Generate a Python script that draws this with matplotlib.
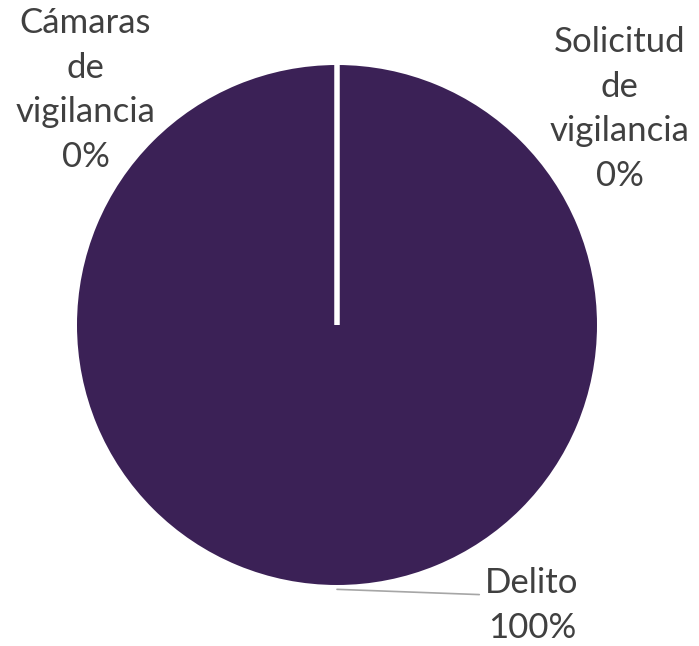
import matplotlib.pyplot as plt

plt.rcParams['font.family'] = ['Lato', 'DejaVu Sans']

categorias = ['Cámaras\nde\nvigilancia', 'Solicitud\nde\nvigilancia', 'Delito']
valores = [0, 0, 1]

total = sum(valores)
porcentajes = [v / total * 100 for v in valores]

fig = plt.figure(figsize=(6.99, 6.46), dpi=100)
# axes sized so the unit-radius pie lands where it should
ax = fig.add_axes([74.5 / 699, 58.5 / 646, 525 / 699, 525 / 646])
wedges, _ = ax.pie(valores, startangle=90, counterclock=False, colors=['#3b2156'] * 3,
                   wedgeprops=dict(edgecolor='white', linewidth=3.6))
# empty slices go on top so their white edge stays visible
for w, v in zip(wedges, valores):
    if v == 0:
        w.set_zorder(5)
ax.set_xlim(-1, 1)
ax.set_ylim(-1, 1)
ax.set_aspect('equal')
ax.axis('off')

# label placement (data coords, radius 1)
pos = [(-0.958, 0.896), (1.077, 0.823), (0.742, -1.068)]
for cat, p, (x, y) in zip(categorias, porcentajes, pos):
    ax.text(x, y, f'{cat}\n{p:.0f}%', ha='center', va='center', fontsize=25,
            color='#404040', linespacing=1.48, clip_on=False)

ax.annotate('', xy=(0.0, -1.007), xytext=(0.542, -1.027),
            arrowprops=dict(arrowstyle='-', color='#a6a6a6', lw=1.2,
                            shrinkA=0, shrinkB=0), annotation_clip=False)

fig.savefig('out.png', dpi=100)
